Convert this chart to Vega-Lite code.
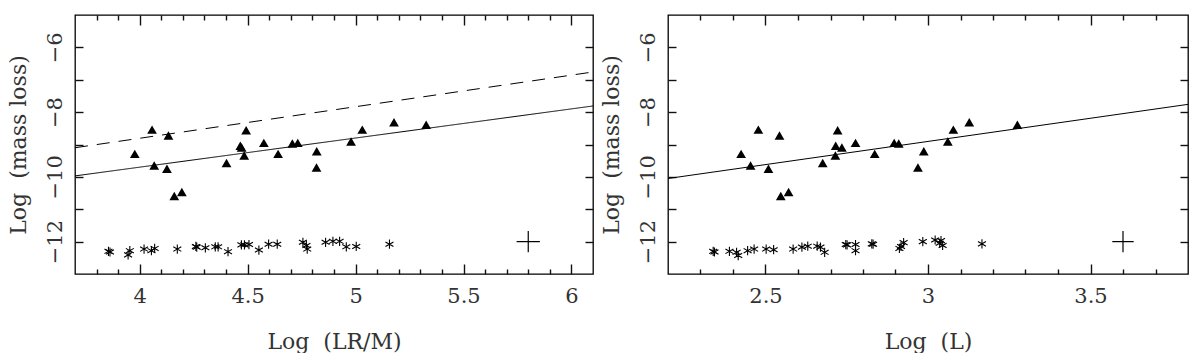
{
  "$schema": "https://vega.github.io/schema/vega-lite/v6.json",
  "background": "white",
  "padding": {"left": 6, "top": 13, "right": 5, "bottom": 0},
  "spacing": 4,
  "config": {
    "view": {"stroke": "#000", "strokeWidth": 1.3},
    "axis": {"domain": false, "grid": false, "ticks": true, "tickColor": "#111", "tickWidth": 1.4, "labelFont": "DejaVu Serif", "titleFont": "DejaVu Serif", "labelColor": "#333", "titleColor": "#333", "titleFontWeight": "normal", "labelFontSize": 21, "titleFontSize": 22, "labelOverlap": false, "labelFlush": false}
  },
  "datasets": {
    "triL": [
      {"x": 3.977, "y": -9.29}, {"x": 4.057, "y": -8.54}, {"x": 4.067, "y": -9.65}, {"x": 4.133, "y": -8.72},
      {"x": 4.126, "y": -9.75}, {"x": 4.160, "y": -10.59}, {"x": 4.195, "y": -10.47}, {"x": 4.402, "y": -9.57},
      {"x": 4.466, "y": -9.04}, {"x": 4.472, "y": -9.09}, {"x": 4.484, "y": -9.34}, {"x": 4.493, "y": -8.56},
      {"x": 4.575, "y": -8.95}, {"x": 4.641, "y": -9.29}, {"x": 4.707, "y": -8.97}, {"x": 4.732, "y": -8.95},
      {"x": 4.820, "y": -9.21}, {"x": 4.819, "y": -9.71}, {"x": 4.979, "y": -8.91}, {"x": 5.031, "y": -8.54},
      {"x": 5.178, "y": -8.31}, {"x": 5.327, "y": -8.39}
    ],
    "starL": [
      {"x": 3.855, "y": -12.30}, {"x": 3.862, "y": -12.32}, {"x": 3.954, "y": -12.28}, {"x": 3.946, "y": -12.41},
      {"x": 4.020, "y": -12.23}, {"x": 4.054, "y": -12.28}, {"x": 4.069, "y": -12.21}, {"x": 4.174, "y": -12.23},
      {"x": 4.260, "y": -12.15}, {"x": 4.264, "y": -12.17}, {"x": 4.304, "y": -12.19}, {"x": 4.350, "y": -12.16},
      {"x": 4.363, "y": -12.16}, {"x": 4.409, "y": -12.31}, {"x": 4.471, "y": -12.10}, {"x": 4.485, "y": -12.10},
      {"x": 4.506, "y": -12.09}, {"x": 4.552, "y": -12.26}, {"x": 4.597, "y": -12.08}, {"x": 4.637, "y": -12.08},
      {"x": 4.756, "y": -12.02}, {"x": 4.772, "y": -12.12}, {"x": 4.776, "y": -12.23}, {"x": 4.861, "y": -12.02},
      {"x": 4.895, "y": -11.99}, {"x": 4.926, "y": -11.99}, {"x": 4.957, "y": -12.16}, {"x": 5.003, "y": -12.15},
      {"x": 5.157, "y": -12.08}
    ],
    "lineL": [
      {"x": 3.7, "y": -9.97, "fit": "fit"}, {"x": 6.1, "y": -7.81, "fit": "fit"},
      {"x": 3.7, "y": -9.10, "fit": "alt"}, {"x": 6.1, "y": -6.76, "fit": "alt"}
    ],
    "errL": [{"x": 5.8, "y": -12, "xlo": 5.746, "xhi": 5.854, "ylo": -12.33, "yhi": -11.67}],
    "triR": [
      {"x": 2.425, "y": -9.29}, {"x": 2.478, "y": -8.54}, {"x": 2.454, "y": -9.65}, {"x": 2.543, "y": -8.72},
      {"x": 2.509, "y": -9.75}, {"x": 2.547, "y": -10.59}, {"x": 2.571, "y": -10.47}, {"x": 2.676, "y": -9.57},
      {"x": 2.716, "y": -9.04}, {"x": 2.735, "y": -9.09}, {"x": 2.715, "y": -9.34}, {"x": 2.722, "y": -8.56},
      {"x": 2.777, "y": -8.95}, {"x": 2.836, "y": -9.29}, {"x": 2.896, "y": -8.95}, {"x": 2.910, "y": -8.97},
      {"x": 2.987, "y": -9.21}, {"x": 2.969, "y": -9.71}, {"x": 3.061, "y": -8.91}, {"x": 3.078, "y": -8.54},
      {"x": 3.127, "y": -8.31}, {"x": 3.275, "y": -8.39}
    ],
    "starR": [
      {"x": 2.339, "y": -12.30}, {"x": 2.343, "y": -12.32}, {"x": 2.389, "y": -12.30}, {"x": 2.411, "y": -12.33},
      {"x": 2.416, "y": -12.43}, {"x": 2.445, "y": -12.28}, {"x": 2.465, "y": -12.23}, {"x": 2.502, "y": -12.23},
      {"x": 2.525, "y": -12.25}, {"x": 2.585, "y": -12.23}, {"x": 2.612, "y": -12.17}, {"x": 2.630, "y": -12.14},
      {"x": 2.659, "y": -12.14}, {"x": 2.669, "y": -12.17}, {"x": 2.682, "y": -12.33}, {"x": 2.747, "y": -12.09},
      {"x": 2.751, "y": -12.10}, {"x": 2.777, "y": -12.09}, {"x": 2.777, "y": -12.28}, {"x": 2.827, "y": -12.07},
      {"x": 2.831, "y": -12.08}, {"x": 2.912, "y": -12.21}, {"x": 2.917, "y": -12.15}, {"x": 2.925, "y": -12.03},
      {"x": 2.984, "y": -12.00}, {"x": 3.022, "y": -11.95}, {"x": 3.040, "y": -11.97}, {"x": 3.045, "y": -12.12},
      {"x": 3.036, "y": -12.05}, {"x": 3.166, "y": -12.07}
    ],
    "lineR": [
      {"x": 2.2, "y": -10.05, "fit": "fit"}, {"x": 3.8, "y": -7.76, "fit": "fit"}
    ],
    "errR": [{"x": 3.6, "y": -12, "xlo": 3.567, "xhi": 3.633, "ylo": -12.33, "yhi": -11.67}]
  },
  "hconcat": [
    {
      "width": 518,
      "height": 259,
      "resolve": {"axis": {"x": "independent", "y": "independent"}},
      "layer": [
        {
          "data": {"name": "triL"},
          "mark": {"type": "point", "shape": "triangle-up", "filled": true, "color": "#000", "opacity": 1, "size": 95},
          "encoding": {
            "x": {"field": "x", "type": "quantitative", "scale": {"domain": [3.7, 6.1], "nice": false, "zero": false},
              "axis": {"orient": "bottom", "values": [4, 4.5, 5, 5.5, 6], "offset": -10, "tickSize": 10,
                "labelExpr": "format(datum.value,'~g')",
                "labelBaseline": "alphabetic", "labelPadding": 28,
                "title": "Log \u00a0(LR/M)", "titleBaseline": "alphabetic", "titlePadding": 54, "minExtent": 30, "maxExtent": 30}},
            "y": {"field": "y", "type": "quantitative", "scale": {"domain": [-13, -5], "nice": false, "zero": false},
              "axis": {"orient": "left", "values": [-12, -11, -10, -9, -8, -7, -6], "offset": -8, "tickSize": 8,
                "labelExpr": "datum.value % 2 == 0 ? format(datum.value,'d') : ''",
                "labelAngle": 270, "labelAlign": "center", "labelBaseline": "alphabetic", "labelPadding": 14,
                "title": "Log \u00a0(mass loss)", "titleAngle": 270, "titleBaseline": "alphabetic", "titlePadding": 28, "minExtent": 30, "maxExtent": 30}}
          }
        },
        {
          "data": {"name": "starL"},
          "mark": {"type": "point", "shape": "M0,-1L0,1M-0.866,-0.5L0.866,0.5M-0.866,0.5L0.866,-0.5", "filled": false, "stroke": "#000", "strokeWidth": 1.1, "opacity": 1, "size": 85},
          "encoding": {
            "x": {"field": "x", "type": "quantitative", "scale": {"domain": [3.7, 6.1], "nice": false, "zero": false},
              "axis": {"orient": "bottom", "values": [3.8, 3.9, 4.1, 4.2, 4.3, 4.4, 4.6, 4.7, 4.8, 4.9, 5.1, 5.2, 5.3, 5.4, 5.6, 5.7, 5.8, 5.9], "offset": -5, "tickSize": 5, "labels": false, "title": null}},
            "y": {"field": "y", "type": "quantitative", "scale": {"domain": [-13, -5], "nice": false, "zero": false},
              "axis": {"orient": "right", "values": [-12, -11, -10, -9, -8, -7, -6], "offset": -8, "tickSize": 8, "labels": false, "title": null}}
          }
        },
        {
          "data": {"name": "lineL"},
          "mark": {"type": "line", "color": "#000", "strokeWidth": 1, "clip": true},
          "encoding": {
            "x": {"field": "x", "type": "quantitative", "scale": {"domain": [3.7, 6.1], "nice": false, "zero": false},
              "axis": {"orient": "top", "values": [4, 4.5, 5, 5.5, 6], "offset": -10, "tickSize": 10, "labels": false, "title": null}},
            "y": {"field": "y", "type": "quantitative", "scale": {"domain": [-13, -5], "nice": false, "zero": false}, "axis": null},
            "strokeDash": {"field": "fit", "type": "nominal", "scale": {"domain": ["fit", "alt"], "range": [[1, 0], [13, 9]]}, "legend": null}
          }
        },
        {
          "data": {"name": "errL"},
          "mark": {"type": "rule", "color": "#000", "strokeWidth": 1.2},
          "encoding": {
            "x": {"field": "xlo", "type": "quantitative", "scale": {"domain": [3.7, 6.1], "nice": false, "zero": false},
              "axis": {"orient": "top", "values": [3.8, 3.9, 4.1, 4.2, 4.3, 4.4, 4.6, 4.7, 4.8, 4.9, 5.1, 5.2, 5.3, 5.4, 5.6, 5.7, 5.8, 5.9], "offset": -5, "tickSize": 5, "labels": false, "title": null}},
            "x2": {"field": "xhi"},
            "y": {"field": "y", "type": "quantitative", "scale": {"domain": [-13, -5], "nice": false, "zero": false}, "axis": null}
          }
        },
        {
          "data": {"name": "errL"},
          "mark": {"type": "rule", "color": "#000", "strokeWidth": 1.2},
          "encoding": {
            "x": {"field": "x", "type": "quantitative", "scale": {"domain": [3.7, 6.1], "nice": false, "zero": false}, "axis": null},
            "y": {"field": "ylo", "type": "quantitative", "scale": {"domain": [-13, -5], "nice": false, "zero": false}, "axis": null},
            "y2": {"field": "yhi"}
          }
        }
      ]
    },
    {
      "width": 520,
      "height": 259,
      "resolve": {"axis": {"x": "independent", "y": "independent"}},
      "layer": [
        {
          "data": {"name": "triR"},
          "mark": {"type": "point", "shape": "triangle-up", "filled": true, "color": "#000", "opacity": 1, "size": 95},
          "encoding": {
            "x": {"field": "x", "type": "quantitative", "scale": {"domain": [2.2, 3.8], "nice": false, "zero": false},
              "axis": {"orient": "bottom", "values": [2.5, 3, 3.5], "offset": -10, "tickSize": 10,
                "labelExpr": "format(datum.value,'~g')",
                "labelBaseline": "alphabetic", "labelPadding": 28,
                "title": "Log \u00a0(L)", "titleBaseline": "alphabetic", "titlePadding": 54, "minExtent": 30, "maxExtent": 30}},
            "y": {"field": "y", "type": "quantitative", "scale": {"domain": [-13, -5], "nice": false, "zero": false},
              "axis": {"orient": "left", "values": [-12, -11, -10, -9, -8, -7, -6], "offset": -8, "tickSize": 8,
                "labelExpr": "datum.value % 2 == 0 ? format(datum.value,'d') : ''",
                "labelAngle": 270, "labelAlign": "center", "labelBaseline": "alphabetic", "labelPadding": 14,
                "title": "Log \u00a0(mass loss)", "titleAngle": 270, "titleBaseline": "alphabetic", "titlePadding": 28, "minExtent": 30, "maxExtent": 30}}
          }
        },
        {
          "data": {"name": "starR"},
          "mark": {"type": "point", "shape": "M0,-1L0,1M-0.866,-0.5L0.866,0.5M-0.866,0.5L0.866,-0.5", "filled": false, "stroke": "#000", "strokeWidth": 1.1, "opacity": 1, "size": 85},
          "encoding": {
            "x": {"field": "x", "type": "quantitative", "scale": {"domain": [2.2, 3.8], "nice": false, "zero": false},
              "axis": {"orient": "bottom", "values": [2.3, 2.4, 2.6, 2.7, 2.8, 2.9, 3.1, 3.2, 3.3, 3.4, 3.6, 3.7], "offset": -5, "tickSize": 5, "labels": false, "title": null}},
            "y": {"field": "y", "type": "quantitative", "scale": {"domain": [-13, -5], "nice": false, "zero": false},
              "axis": {"orient": "right", "values": [-12, -11, -10, -9, -8, -7, -6], "offset": -8, "tickSize": 8, "labels": false, "title": null}}
          }
        },
        {
          "data": {"name": "lineR"},
          "mark": {"type": "line", "color": "#000", "strokeWidth": 1, "clip": true},
          "encoding": {
            "x": {"field": "x", "type": "quantitative", "scale": {"domain": [2.2, 3.8], "nice": false, "zero": false},
              "axis": {"orient": "top", "values": [2.5, 3, 3.5], "offset": -10, "tickSize": 10, "labels": false, "title": null}},
            "y": {"field": "y", "type": "quantitative", "scale": {"domain": [-13, -5], "nice": false, "zero": false}, "axis": null}
          }
        },
        {
          "data": {"name": "errR"},
          "mark": {"type": "rule", "color": "#000", "strokeWidth": 1.2},
          "encoding": {
            "x": {"field": "xlo", "type": "quantitative", "scale": {"domain": [2.2, 3.8], "nice": false, "zero": false},
              "axis": {"orient": "top", "values": [2.3, 2.4, 2.6, 2.7, 2.8, 2.9, 3.1, 3.2, 3.3, 3.4, 3.6, 3.7], "offset": -5, "tickSize": 5, "labels": false, "title": null}},
            "x2": {"field": "xhi"},
            "y": {"field": "y", "type": "quantitative", "scale": {"domain": [-13, -5], "nice": false, "zero": false}, "axis": null}
          }
        },
        {
          "data": {"name": "errR"},
          "mark": {"type": "rule", "color": "#000", "strokeWidth": 1.2},
          "encoding": {
            "x": {"field": "x", "type": "quantitative", "scale": {"domain": [2.2, 3.8], "nice": false, "zero": false}, "axis": null},
            "y": {"field": "ylo", "type": "quantitative", "scale": {"domain": [-13, -5], "nice": false, "zero": false}, "axis": null},
            "y2": {"field": "yhi"}
          }
        }
      ]
    }
  ]
}
